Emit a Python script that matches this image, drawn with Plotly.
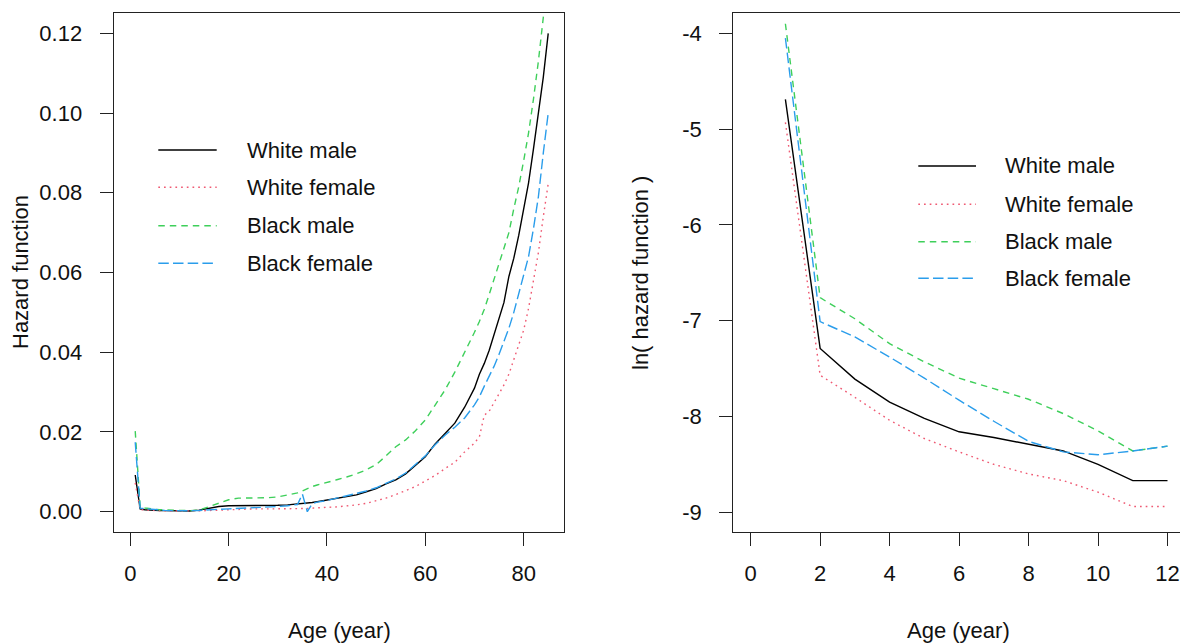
import plotly.graph_objects as go

# ---------------- data ----------------
series_names = ["White male", "White female", "Black male", "Black female"]

ages_left = [1, 2, 3, 4, 5, 6, 7, 8, 9, 10, 11, 12, 14, 16, 18, 20, 22, 25, 28, 30, 32, 34,
             35, 36, 37, 38, 40, 42, 44, 46, 48, 50, 52, 54, 56, 58, 60, 62, 64, 66, 68, 70,
             71, 72, 73, 74, 75, 76, 77, 78, 79, 80, 81, 82, 83, 84, 85]

white_male_h = [0.0092, 0.00068, 0.00050, 0.00039, 0.00033, 0.00029, 0.00027, 0.00025, 0.00023, 0.00020, 0.00017, 0.00017,
                0.0004, 0.0009, 0.0013, 0.0015, 0.0015, 0.0015, 0.0015, 0.0016, 0.0017, 0.0019,
                0.0020, 0.0021, 0.0023, 0.0025,
                0.0029, 0.0033, 0.0037, 0.0042, 0.0050, 0.0058, 0.0070, 0.0080, 0.0095, 0.0116, 0.0138, 0.0170, 0.0196, 0.0222, 0.0262, 0.0310,
                0.0345, 0.0372, 0.0405, 0.0445, 0.0490, 0.0525, 0.0590, 0.0636, 0.0693, 0.0760, 0.0825, 0.0910, 0.0995, 0.1090, 0.1200]

white_female_h = [0.0072, 0.00052, 0.00041, 0.00032, 0.00027, 0.00023, 0.00020, 0.00018, 0.00017, 0.00015, 0.00013, 0.00013,
                  0.0002, 0.0003, 0.0004, 0.0005, 0.0006, 0.0007, 0.0007, 0.0007, 0.0007, 0.0008,
                  0.0008, 0.0008, 0.0009, 0.0010,
                  0.0011, 0.0012, 0.0014, 0.0017, 0.0021, 0.0027, 0.0034, 0.0043, 0.0052, 0.0063, 0.0077, 0.0091, 0.0108, 0.0124, 0.0150, 0.0172,
                  0.0188, 0.0242, 0.0252, 0.0275, 0.0295, 0.0318, 0.0345, 0.0380, 0.0420, 0.0455, 0.0510, 0.0575, 0.0650, 0.0740, 0.0823]

black_male_h = [0.0202, 0.00116, 0.00093, 0.00072, 0.00059, 0.00050, 0.00045, 0.00040, 0.00035, 0.00029, 0.00023, 0.00025,
                0.0004, 0.0012, 0.0022, 0.0030, 0.0034, 0.0034, 0.0035, 0.0037, 0.0042, 0.0047,
                0.0052, 0.0058, 0.0063, 0.0067,
                0.0073, 0.0080, 0.0087, 0.0095, 0.0105, 0.0118, 0.0140, 0.0163, 0.0180, 0.0203, 0.0230, 0.0268, 0.0305, 0.0350, 0.0398, 0.0450,
                0.0477, 0.0508, 0.0545, 0.0585, 0.0625, 0.0660, 0.0700, 0.0760, 0.0815, 0.0880, 0.0950, 0.1035, 0.1130, 0.1240, 0.1360]

black_female_h = [0.0174, 0.00090, 0.00077, 0.00062, 0.00050, 0.00040, 0.00032, 0.00026, 0.00023, 0.00022, 0.00023, 0.00025,
                  0.0003, 0.0005, 0.0006, 0.0007, 0.0008, 0.0009, 0.0011, 0.0013, 0.0015, 0.0018,
                  0.0044, 0.0000, 0.0020, 0.0024,
                  0.0028, 0.0034, 0.0040, 0.0046, 0.0052, 0.0060, 0.0070, 0.0082, 0.0097, 0.0118, 0.0140, 0.0168, 0.0192, 0.0212, 0.0235, 0.0268,
                  0.0288, 0.0315, 0.0340, 0.0365, 0.0395, 0.0425, 0.0460, 0.0500, 0.0545, 0.0595, 0.0640, 0.0710, 0.0790, 0.0900, 0.1000]

ages_right = [1, 2, 3, 4, 5, 6, 7, 8, 9, 10, 11, 12]
white_male_ln = [-4.69, -7.29, -7.61, -7.85, -8.02, -8.16, -8.22, -8.29, -8.36, -8.50, -8.67, -8.67]
white_female_ln = [-4.93, -7.57, -7.80, -8.04, -8.23, -8.37, -8.50, -8.60, -8.67, -8.79, -8.94, -8.94]
black_male_ln = [-3.90, -6.76, -6.98, -7.24, -7.43, -7.60, -7.71, -7.82, -7.97, -8.15, -8.36, -8.31]
black_female_ln = [-4.05, -7.01, -7.17, -7.38, -7.60, -7.83, -8.05, -8.26, -8.37, -8.40, -8.36, -8.31]

left_xticks = [0, 20, 40, 60, 80]
left_yticks = [0.00, 0.02, 0.04, 0.06, 0.08, 0.10, 0.12]
left_ytick_labels = ["0.00", "0.02", "0.04", "0.06", "0.08", "0.10", "0.12"]
right_xticks = [0, 2, 4, 6, 8, 10, 12]
right_yticks = [-9, -8, -7, -6, -5, -4]
right_ytick_labels = ["-9", "-8", "-7", "-6", "-5", "-4"]

# ---------------- styles ----------------
colors = ["#000000", "#EF5A73", "#3ECF5A", "#2A9DEB"]
dashes = ["solid", "1.7px,4px", "6.5px,5px", "10.5px,4.2px"]
LW = 1.4
FONT = "Liberation Sans, Arial, sans-serif"
FS = 22
AX = "#222222"

left_vals = [white_male_h, white_female_h, black_male_h, black_female_h]
right_vals = [white_male_ln, white_female_ln, black_male_ln, black_female_ln]

fig = go.Figure()
for name, vals, c, d in zip(series_names, left_vals, colors, dashes):
    fig.add_trace(go.Scatter(x=ages_left, y=vals, mode="lines", name=name,
                             line=dict(color=c, width=LW, dash=d),
                             xaxis="x", yaxis="y", showlegend=False))
for name, vals, c, d in zip(series_names, right_vals, colors, dashes):
    fig.add_trace(go.Scatter(x=ages_right, y=vals, mode="lines", name=name,
                             line=dict(color=c, width=LW, dash=d),
                             xaxis="x2", yaxis="y2", showlegend=False))

# the page body margin is removed by post_script, so the figure fills the window
W, H = 1180, 643


def px(x):
    return x / W


def py(y):
    return 1 - y / H


ydom = [py(531.7), py(13.3)]

common = dict(showgrid=False, zeroline=False, showline=True, linecolor=AX, linewidth=1.3,
              ticks="outside", ticklen=13, tickwidth=1.3, tickcolor=AX,
              tickfont=dict(family=FONT, size=FS, color="#111111"))

fig.update_layout(
    width=W, height=H,
    margin=dict(l=0, r=0, t=0, b=0),
    paper_bgcolor="white", plot_bgcolor="white",
    font=dict(family=FONT, size=FS, color="#111111"),
    xaxis=dict(domain=[px(113.7), px(564.3)], range=[-3.38, 88.27], tickvals=left_xticks,
               mirror=True, anchor="y", ticklabelstandoff=9, **common),
    yaxis=dict(domain=ydom, range=[-0.00502, 0.12502], tickvals=left_yticks,
               ticktext=left_ytick_labels, mirror=True, anchor="x", ticklabelstandoff=13, **common),
    xaxis2=dict(domain=[px(733.3), 1.0], range=[-0.50, 12.36], tickvals=right_xticks,
                mirror=True, anchor="y2", ticklabelstandoff=9, **common),
    yaxis2=dict(domain=ydom, range=[-9.203, -3.791], tickvals=right_yticks,
                ticktext=right_ytick_labels, mirror=False, anchor="x2", ticklabelstandoff=13, **common),
)

ann = []
shapes = []
# axis titles
ann.append(dict(text="Age (year)", x=px(339), y=py(630), xref="paper", yref="paper",
                xanchor="center", yanchor="middle", showarrow=False))
ann.append(dict(text="Age (year)", x=px(958.8), y=py(630), xref="paper", yref="paper",
                xanchor="center", yanchor="middle", showarrow=False))
ann.append(dict(text="Hazard function", x=px(20), y=py(272), xref="paper", yref="paper",
                xanchor="center", yanchor="middle", textangle=-90, showarrow=False))
ann.append(dict(text="ln( hazard function )", x=px(641), y=py(273), xref="paper", yref="paper",
                xanchor="center", yanchor="middle", textangle=-90, showarrow=False))

# legends (one per panel)
legend_specs = [
    (158.3, 216.7, 245.0, [150.0, 187.3, 225.7, 263.3]),
    (918.3, 976.0, 1003.3, [166.0, 204.2, 241.7, 278.2]),
]
for x0, x1, xt, rows in legend_specs:
    for name, c, d, ry in zip(series_names, colors, dashes, rows):
        yp = py(ry)
        shapes.append(dict(type="line", xref="paper", yref="paper", x0=px(x0), x1=px(x1),
                           y0=yp, y1=yp, line=dict(color=c, width=LW, dash=d)))
        ann.append(dict(text=name, x=px(xt), y=yp, xref="paper", yref="paper",
                        xanchor="left", yanchor="middle", showarrow=False))

fig.update_layout(annotations=ann, shapes=shapes)
fig.write_html(
    "out.html",
    config={"displayModeBar": False},
    post_script="document.body.style.margin='0px';document.body.style.overflow='hidden';",
)
